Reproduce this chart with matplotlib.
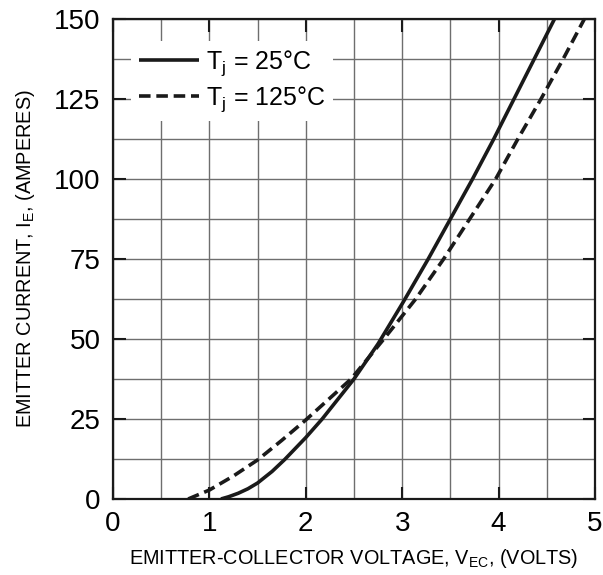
import numpy as np
import matplotlib
matplotlib.use("Agg")
import matplotlib.pyplot as plt

plt.rcParams['font.family'] = ['Liberation Sans', 'DejaVu Sans']
plt.rcParams['mathtext.default'] = 'regular'

# values
v_25 = [1.12, 1.2, 1.3, 1.4, 1.5, 1.65, 1.78, 2.0, 2.17, 2.5, 2.75, 3.01, 3.27, 3.50,
        3.73, 3.95, 4.16, 4.37, 4.58]
i_25 = [0, 0.7, 1.8, 3.2, 5.0, 8.6, 12.3, 19.2, 25, 37.5, 48.5, 61.5, 75, 87.5,
        100, 112.5, 125, 137.5, 150]

v_125 = [0.78, 1.0, 1.25, 1.5, 1.75, 2.0, 2.47, 2.81, 3.14, 3.43, 3.70, 3.97,
         4.20, 4.44, 4.67, 4.89]
i_125 = [0, 2.8, 7.2, 12.2, 18.3, 24.7, 37.5, 50, 62.5, 75, 87.5, 100,
         112.5, 125, 137.5, 150]

x_ticks = [0, 1, 2, 3, 4, 5]
y_ticks = [0, 25, 50, 75, 100, 125, 150]


fig = plt.figure(figsize=(6.03, 5.75), dpi=100)
ax = fig.add_axes([0.1874, 0.1322, 0.7993, 0.8348])

ax.plot(v_25, i_25, color='#1a1a1a', lw=2.6, solid_capstyle='butt', label='T$_j$ = 25°C')
ax.plot(v_125, i_125, color='#1a1a1a', lw=2.6, dashes=(3.2, 1.6), label='T$_j$ = 125°C')

ax.set_xlim(0, 5)
ax.set_ylim(0, 150)
ax.set_xticks(x_ticks)
ax.set_yticks(y_ticks)
ax.set_xticks(np.arange(0, 5.01, 0.5), minor=True)
ax.set_yticks(np.arange(0, 150.1, 12.5), minor=True)
ax.grid(which='both', color='#6e6e6e', lw=1.0)
ax.set_axisbelow(True)

ax.tick_params(which='major', direction='in', top=True, right=True, length=9, width=1.5,
               labelsize=20, pad=9, color='#1a1a1a')
ax.tick_params(which='minor', length=0)
for s in ax.spines.values():
    s.set_linewidth(1.6)
    s.set_color('#1a1a1a')

ax.set_xlabel('EMITTER-COLLECTOR VOLTAGE, V$_{EC}$, (VOLTS)', fontsize=14.3, labelpad=7)
ax.set_ylabel('EMITTER CURRENT, I$_E$, (AMPERES)', fontsize=14.3, labelpad=12)

leg = ax.legend(loc='upper left', bbox_to_anchor=(0.038, 0.955), fontsize=18,
                frameon=True, framealpha=1, edgecolor='none', fancybox=False,
                handlelength=2.4, handletextpad=0.3, labelspacing=0.25,
                borderpad=0.3, borderaxespad=0)

fig.savefig('out.png', dpi=100)
